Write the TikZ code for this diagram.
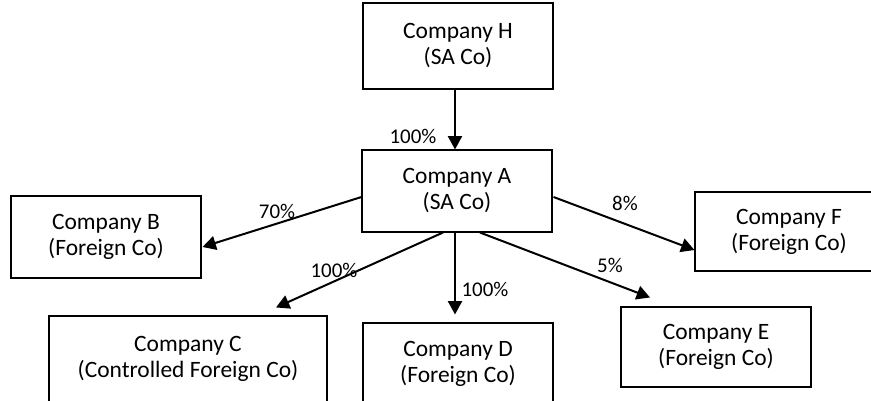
\documentclass[tikz,border=0pt]{standalone}
\usepackage{fontspec}
\setmainfont{Carlito}
\usetikzlibrary{arrows.meta,calc}
\begin{document}
\begin{tikzpicture}[x=0.75pt,y=-0.75pt,
  cobox/.style={draw, line width=0.8pt, align=center, inner sep=0pt,
    font=\fontsize{17.6}{19.5}\selectfont},
  arr/.style={-{Triangle[length=10pt,width=10.5pt]}, line width=1.5pt},
  pct/.style={inner sep=0pt, font=\fontsize{15.7}{18}\selectfont}]
\useasboundingbox (0,0) rectangle (871,400);
\clip (0,0) rectangle (871,400);
\node[cobox, minimum width=142.5pt, minimum height=64.5pt] (H) at (458,46) {Company H\\(SA Co)};
\node[cobox, minimum width=142.5pt, minimum height=61.5pt] (A) at (457,191) {Company A\\(SA Co)};
\node[cobox, minimum width=142.5pt, minimum height=61.5pt] (B) at (106,237) {Company B\\(Foreign Co)};
\node[cobox, minimum width=208.5pt, minimum height=64.5pt] (C) at (188,359) {Company C\\(Controlled Foreign Co)};
\node[cobox, minimum width=142.5pt, minimum height=61.5pt] (D) at (458,364) {Company D\\(Foreign Co)};
\node[cobox, minimum width=142.5pt, minimum height=60pt] (E) at (716,347) {Company E\\(Foreign Co)};
\node[cobox, minimum width=141pt, minimum height=59.25pt] (F) at (789,231.5) {Company F\\(Foreign Co)};
\draw[arr] ($(H.south)+(-3,0)$) -- ($(A.north)+(-2,0)$);
\draw[arr] ($(A.west)+(0,6)$) -- ($(B.east)+(1,10)$);
\draw[arr] ($(A.south)+(-14,0)$) -- ($(C.north)+(88,-8)$);
\draw[arr] ($(A.south)+(-2,0)$) -- ($(D.north)+(-3,-8)$);
\draw[arr] ($(A.south)+(23,0)$) -- ($(E.north)+(-66,-9)$);
\draw[arr] ($(A.east)+(1,6)$) -- ($(F.west)+(0,18.5)$);
\node[pct] (lHA) at (413,136) {100\%};
\node[pct] (lAB) at (277,211) {70\%};
\node[pct] (lAC) at (334,270) {100\%};
\node[pct] (lAD) at (485,289) {100\%};
\node[pct] (lAF) at (625,203) {8\%};
\node[pct] (lAE) at (610,265) {5\%};
\end{tikzpicture}
\end{document}
